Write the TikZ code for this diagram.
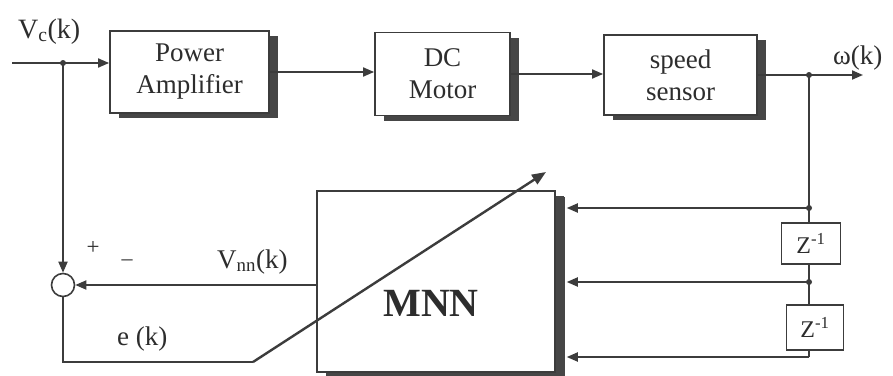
\documentclass[tikz,border=0pt]{standalone}
\usepackage{fontspec}
\setmainfont{Liberation Serif}
\usetikzlibrary{arrows.meta,shadows,calc}
\definecolor{ink}{RGB}{60,60,60}
\definecolor{shade}{RGB}{70,70,70}
\definecolor{dark}{RGB}{45,45,45}
\begin{document}
\begin{tikzpicture}[x=1pt,y=-1pt,
  every node/.style={text=dark, font=\fontsize{27}{32}\selectfont},
  blk/.style={draw=ink, line width=1.8pt, fill=white, align=center, inner sep=0pt,
    general shadow={fill=shade, shadow xshift=9pt, shadow yshift=-5pt}},
  zbox/.style={draw=ink, line width=1.6pt, fill=white, inner sep=0pt, font=\fontsize{24}{28}\selectfont},
  wire/.style={draw=ink, line width=1.8pt},
  arr/.style={wire, -{Triangle[length=11pt,width=9pt]}},
  dot/.style={circle, fill=ink, inner sep=0pt, minimum size=6pt},
  lbl/.style={inner sep=0pt, anchor=base west}
]
\useasboundingbox[fill=white] (0,0) rectangle (893,375);

% blocks
\node[blk, minimum width=159pt, minimum height=82pt] (pa) at (189.5,72) {Power\\Amplifier};
\node[blk, minimum width=135pt, minimum height=83pt] (dc) at (442.5,74) {DC\\Motor};
\node[blk, minimum width=153pt, minimum height=80pt] (ss) at (680.5,75) {speed\\sensor};
\node[blk, line width=1.5pt, minimum width=238pt, minimum height=181pt,
      general shadow={fill=shade, shadow xshift=10pt, shadow yshift=-6pt}] (mnn) at (436,281.5) {};
\node[font=\fontsize{40}{44}\selectfont\bfseries, inner sep=0pt] (mnntext) at (431,303) {MNN};
\node[zbox, minimum width=59pt, minimum height=41pt] (z1) at (811,243.5) {Z\textsuperscript{-1}};
\node[zbox, minimum width=57pt, minimum height=45pt] (z2) at (815,327.5) {Z\textsuperscript{-1}};
\node[circle, draw=ink, line width=1.6pt, minimum size=23pt, inner sep=0pt] (sum) at (63,285) {};

% coordinates
\coordinate (in) at (12,63);
\coordinate (j1) at (63,63);
\coordinate (j2) at (809,75);
\coordinate (out) at (863,75);
\coordinate (t1) at (809,208);
\coordinate (t2) at (809,282);
\coordinate (t3) at (809,357);
\coordinate (mr) at ($(mnn.east)+(11,0)$);
\coordinate (ebend) at (253,362);
\coordinate (etip) at (546,172);

% connectors
\draw[arr] (in) -- (pa.west |- in);
\draw[arr] (j1) -- (sum.north);
\draw[arr] (pa.east) -- (pa.east -| dc.west);
\draw[arr] (dc.east) -- (dc.east -| ss.west);
\draw[arr] (ss.east) -- (out);
\draw[wire] (j2) -- (z1.north -| j2);
\draw[wire] (z1.south -| j2) -- (z2.north -| j2);
\draw[wire] (z2.south -| j2) -- (t3);
\draw[arr] (t1) -- (t1 -| mr);
\draw[arr] (t2) -- (t2 -| mr);
\draw[arr] (t3) -- (t3 -| mr);
\draw[arr] (mnn.west |- sum) -- (sum.east);
\draw[wire] (sum.south) |- (ebend);
\draw[wire, line width=2.4pt, -{Triangle[length=14pt,width=11pt]}] (ebend) -- (etip);

% junction dots
\node[dot] (d1) at (j1) {};
\node[dot] (d2) at (j2) {};
\node[dot] (d3) at (t1) {};
\node[dot] (d4) at (t2) {};

% labels
\node[lbl, font=\fontsize{28}{32}\selectfont] (vc) at (18,38) {V\textsubscript{c}(k)};
\node[lbl] (om) at (833,64) {ω(k)};
\node[lbl] (vnn) at (217,268) {V\textsubscript{nn}(k)};
\node[lbl] (ek) at (117,345) {e (k)};
\node[inner sep=0pt, font=\fontsize{23}{23}\selectfont] (plus) at (93,248) {+};
\node[inner sep=0pt, font=\fontsize{22}{22}\selectfont] (minus) at (127,263) {–};
\end{tikzpicture}
\end{document}
